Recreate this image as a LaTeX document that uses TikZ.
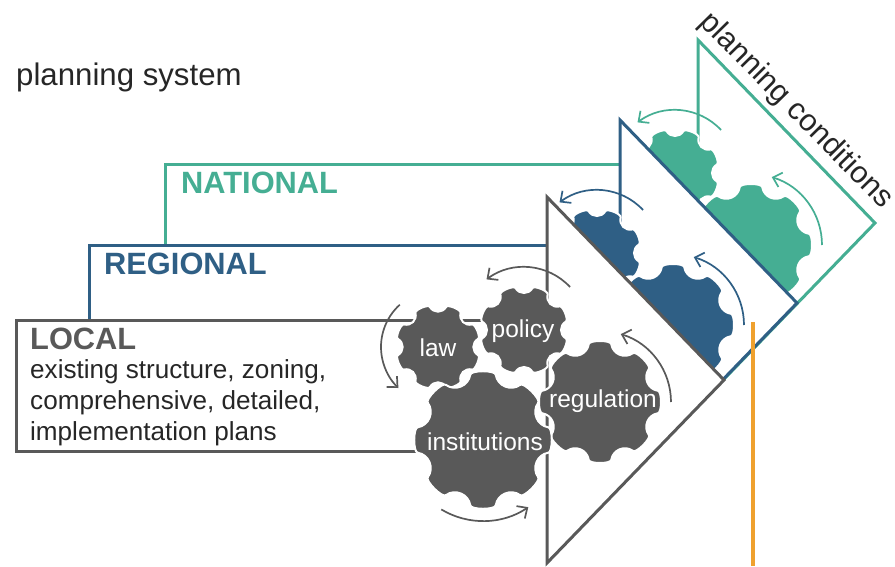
\documentclass[tikz,border=0pt]{standalone}
\usepackage{fontspec}
\setmainfont{Liberation Sans}
\usetikzlibrary{arrows.meta}

\definecolor{greylevel}{HTML}{595959}
\definecolor{bluelevel}{HTML}{2F5F85}
\definecolor{greenlevel}{HTML}{45AE93}
\definecolor{orangeline}{HTML}{EFA12E}

\tikzset{
  levelline/.style={line width=3pt,line join=miter},
  turnarrow/.style={line width=1.7pt,-{Straight Barb[length=8pt,width=15pt,line width=1.7pt]}},
  leveltitle/.style={inner sep=0pt,anchor=west,font=\bfseries\fontsize{30.8}{36}\selectfont},
  bodytext/.style={inner sep=0pt,anchor=west,text=black!85,font=\fontsize{26.1}{31}\selectfont},
  gearlabel/.style={inner sep=0pt,text=white,font=\fontsize{24.5}{28}\selectfont},
}

% x, y, outer radius, first tooth angle, colour
\newcommand{\gear}[5]{
\path[draw=white,fill=#5,line width=2pt,shift={(#1,#2)}] (#4-11:.95*#3+1)
  \foreach \k [evaluate=\k as \a using #4+45*\k] in {0,...,7} {
    .. controls (\a-10:#3+2) and (\a+10:#3+2) .. (\a+11:.95*#3+1)
    .. controls (\a+15:.81*#3) and (\a+30:.81*#3) .. (\a+34:.95*#3+1)
  } -- cycle;
}

\begin{document}
\begin{tikzpicture}[x=1pt,y=-1pt]
\useasboundingbox (0,0) rectangle (895,566);

% level outlines
\coordinate (nationalfoot) at (165,245);
\coordinate (nationalend) at (620,164);
\coordinate (regionalfoot) at (89,320);
\coordinate (regionalend) at (547,245);
\coordinate (localtop) at (525,320);
\coordinate (localcorner) at (16,320);
\coordinate (localbase) at (16,451);
\coordinate (localend) at (440,451);
\draw[levelline,greenlevel] (nationalfoot) |- (nationalend);
\draw[levelline,bluelevel] (regionalfoot) |- (regionalend);
\draw[levelline,greylevel] (localtop) -- (localcorner) -- (localbase) -- (localend);

% the same triangle, gears and arrows on each level
\foreach \lvl/\dx/\dy in {greenlevel/151/-157,bluelevel/73/-77,greylevel/0/0} {
\begin{scope}[shift={(\dx,\dy)}]
\coordinate (\lvl top) at (547,197);
\coordinate (\lvl right) at (724,380);
\coordinate (\lvl bottom) at (547,563);
\draw[levelline,\lvl,fill=white] (\lvl top) -- (\lvl right) -- (\lvl bottom) -- cycle;
\gear{600}{402}{61}{0}{\lvl}
\gear{524}{330}{44}{22.5}{\lvl}
\draw[turnarrow,\lvl] (524,330) ++(-43:63) arc[start angle=-43,end angle=-126.5,radius=63];
\draw[turnarrow,\lvl] (600,402) ++(0:71) arc[start angle=0,end angle=-73,radius=71];
\end{scope}
}

% the two gears only the local level has
\gear{438}{347}{42}{22.5}{greylevel}
\gear{483}{440}{69}{0}{greylevel}
\draw[turnarrow,greylevel] (438,347) ++(-132:57) arc[start angle=-132,end angle=-226,radius=57];
\draw[turnarrow,greylevel] (483,440) ++(121:81) arc[start angle=121,end angle=56,radius=81];

% planning conditions marker
\coordinate (markertop) at (753,322);
\coordinate (markerbase) at (753,566);
\draw[line width=4pt,orangeline] (markertop) -- (markerbase);

\node[inner sep=0pt,anchor=west,text=black!85,font=\fontsize{31.2}{36}\selectfont] (systemlabel) at (16,77) {planning system};
\node[inner sep=0pt,text=black!85,rotate=-45.5,font=\fontsize{30.5}{36}\selectfont] (conditionslabel) at (796,111) {planning conditions};
\node[leveltitle,text=greenlevel] (nationallabel) at (181,183) {NATIONAL};
\node[leveltitle,text=bluelevel] (regionallabel) at (104,264) {REGIONAL};
\node[leveltitle,text=greylevel] (locallabel) at (30,339) {LOCAL};
\node[bodytext] (structurelabel) at (30,372) {existing structure, zoning,};
\node[bodytext] (planslabel) at (30,403) {comprehensive, detailed,};
\node[bodytext] (implementlabel) at (30,434) {implementation plans};
\node[gearlabel] (lawlabel) at (438,348) {law};
\node[gearlabel] (policylabel) at (523,331) {policy};
\node[gearlabel] (regulationlabel) at (603,401) {regulation};
\node[gearlabel] (institutionslabel) at (485,442) {institutions};
\end{tikzpicture}
\end{document}
